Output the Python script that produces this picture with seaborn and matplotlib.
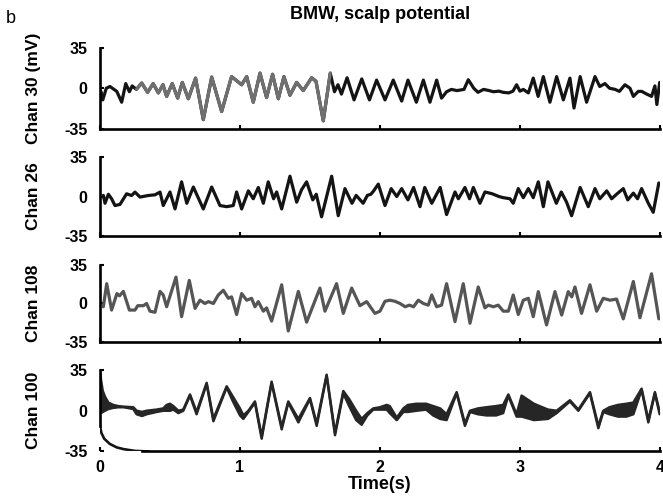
import numpy as np
import matplotlib
matplotlib.use("Agg")
import matplotlib.pyplot as plt
import seaborn as sns

# ---- channel data (time in s, potential in mV) ----
chan30_t = [0.007, 0.02, 0.045, 0.071, 0.12, 0.155, 0.184, 0.21, 0.23, 0.26,
            0.298, 0.34, 0.38, 0.417, 0.45, 0.476, 0.516, 0.555, 0.588, 0.631,
            0.683, 0.738, 0.798, 0.869, 0.94, 1.012, 1.048, 1.095, 1.143, 1.19,
            1.233, 1.274, 1.314, 1.357, 1.405, 1.452, 1.512, 1.543, 1.595, 1.645,
            1.675, 1.70, 1.725, 1.765, 1.815, 1.87, 1.925, 1.976, 2.036, 2.095,
            2.155, 2.2, 2.26, 2.31, 2.357, 2.405, 2.44, 2.476, 2.51, 2.55,
            2.60, 2.631, 2.67, 2.70, 2.74, 2.78, 2.81, 2.85, 2.88, 2.92,
            2.95, 2.976, 3.0, 3.024, 3.06, 3.095, 3.13, 3.167, 3.214, 3.262,
            3.31, 3.357, 3.386, 3.43, 3.476, 3.536, 3.57, 3.607, 3.64, 3.68,
            3.71, 3.75, 3.786, 3.81, 3.845, 3.87, 3.905, 3.94, 3.964, 3.978, 3.998]
chan30_v = [-2.7, -10, 0, 1.5, -2.7, -12, 4, -3, 2, -1,
            4.5, -3.5, 4, -4, 3, -7, 4, -8.4, 5, -9,
            8.7, -27, 9.6, -20, 10, 3, 10, -12, 13, -8,
            12, -9, 10, -6, 5, -2, 9, 6, -28, 13,
            -3, 3, -5, 9, -10, 8, -10, 7, -10, 7,
            -11, 7, -12, 7, -12, 7, -8.5, -3, -1, -2,
            -1, 7.3, 0, -3.5, -1, -2, -3, -2.5, -3.5, -4,
            -2.5, 3, -2.5, -1, -4, 8.7, -7, 10, -12, 10,
            -10, 8.7, -17, 10, -12, 10, 1.5, 4, 0, -1,
            -2.7, 3, 0, -7, -2.7, -2.7, -5, -7, 2, -14, 5]

chan26_t = [0.024, 0.036, 0.06, 0.083, 0.107, 0.143, 0.19, 0.226, 0.25, 0.286,
            0.345, 0.393, 0.429, 0.452, 0.5, 0.536, 0.583, 0.62, 0.667, 0.738,
            0.798, 0.857, 0.905, 0.952, 0.976, 1.012, 1.06, 1.095, 1.131, 1.167,
            1.202, 1.24, 1.262, 1.298, 1.357, 1.405, 1.44, 1.476, 1.52, 1.545,
            1.583, 1.655, 1.702, 1.75, 1.80, 1.83, 1.88, 1.91, 1.935, 1.955,
            1.988, 2.036, 2.08, 2.12, 2.155, 2.2, 2.24, 2.286, 2.32, 2.37,
            2.43, 2.476, 2.536, 2.56, 2.607, 2.64, 2.667, 2.714, 2.75, 2.80,
            2.85, 2.88, 2.929, 2.952, 2.988, 3.024, 3.06, 3.095, 3.131, 3.167,
            3.2, 3.26, 3.295, 3.333, 3.369, 3.43, 3.488, 3.536, 3.57, 3.62,
            3.655, 3.69, 3.738, 3.77, 3.81, 3.84, 3.869, 3.917, 3.952, 3.992]
chan26_v = [1, -6, 2, -2, -8, -7, 2.4, 0.9, 3.9, -0.5,
            0.9, 1.5, 3.9, -8, 4, -11, 13, -6, 8.4, -11,
            8.4, -8, -9, -8, 4, -11, 5, -2, 8, -6,
            13, -2, 4, -11, 18, -5, 6, 13, -3, 2,
            -18, 18, -17, 7, -6, 1, -6, 1, 2, 5,
            11, -8, 7, 0, 7, -3, 8, -9, 8, -6,
            8, -16, 4, -2, 8, -2, 8, -6, 4, 2.5,
            0, -1, -2, -6, 7, -1, 7, -1, 13, -9,
            13, -6, 4, -5, -17, 8, -9, 7, -2, 5,
            -2, 2, 7, -3, 3, -2, 7, -6, -14, 12]

chan108_t = [0.024, 0.048, 0.083, 0.121, 0.14, 0.167, 0.21, 0.25, 0.27, 0.31,
             0.333, 0.357, 0.393, 0.429, 0.452, 0.476, 0.543, 0.583, 0.638, 0.679,
             0.714, 0.75, 0.774, 0.81, 0.845, 0.881, 0.917, 0.94, 0.976, 1.012,
             1.048, 1.083, 1.107, 1.131, 1.167, 1.19, 1.226, 1.298, 1.345, 1.417,
             1.476, 1.571, 1.607, 1.69, 1.738, 1.798, 1.857, 1.905, 1.964, 2.0,
             2.036, 2.07, 2.107, 2.143, 2.18, 2.21, 2.24, 2.274, 2.31, 2.345,
             2.37, 2.405, 2.44, 2.476, 2.536, 2.595, 2.643, 2.702, 2.75, 2.774,
             2.81, 2.845, 2.881, 2.917, 2.952, 2.988, 3.024, 3.06, 3.095, 3.131,
             3.19, 3.25, 3.298, 3.345, 3.37, 3.393, 3.44, 3.5, 3.548, 3.595,
             3.643, 3.69, 3.738, 3.81, 3.857, 3.94, 3.992]
chan108_v = [-3, 18, -6, 9, 7, 11, -6, -6, -2, -2,
             0, -7, -8, 11, 7.7, -3, 24, -12, 21, -4.5,
             3, 0, 1.7, 0, 7.7, 12, 4.7, 6, -10, 9,
             3, 4.7, -3, 1.7, -7, -4, -16, 17, -25, 11,
             -17, 14, -7, 18, -9, 14, -2, 1.7, -9, -7,
             2, 3, 2, 0, -3, -1.5, -3, 3, 0, -1.5,
             7.7, -3, -1.5, 18, -16.5, 18, -18, 15, -4, -1.5,
             -3, -1.5, -7, -7, 7.7, -10, 3, 4.7, -12, 10.8,
             -19.5, 10.8, -10.5, 10.8, 6, 15, -9, 17, -7, 4.7,
             3, 4, -14, 20, -13, 27, -14]

# Chan 100 is drawn as a band between an upper and a lower trace
chan100_t = [0.0, 0.008, 0.02, 0.036, 0.06, 0.095, 0.13, 0.17, 0.238, 0.262,
             0.3, 0.333, 0.405, 0.452, 0.476, 0.5, 0.524, 0.56, 0.595, 0.643,
             0.69, 0.762, 0.81, 0.905, 0.95, 1.0, 1.024, 1.06, 1.107, 1.155,
             1.226, 1.298, 1.345, 1.417, 1.5, 1.548, 1.619, 1.679, 1.738, 1.78,
             1.83, 1.869, 1.91, 1.952, 2.0, 2.048, 2.07, 2.12, 2.167, 2.2,
             2.26, 2.33, 2.38, 2.43, 2.476, 2.548, 2.607, 2.643, 2.7, 2.76,
             2.83, 2.88, 2.917, 2.976, 3.012, 3.1, 3.2, 3.262, 3.357, 3.417,
             3.5, 3.56, 3.595, 3.64, 3.7, 3.76, 3.81, 3.869, 3.917, 3.964, 3.998]
chan100_hi = [35, 26, 17, 12, 7, 5, 4, 3.5, 3, 0,
              -1, 0, 1, 2, 5, 6, 4, 0, 1, 14,
              -1, 24, -7, 21, 12, 2, -4, 0, 8, -22,
              25, -14, 8, -7, 11, -11, 31, -19, 17, 10,
              0, -7, -2, 2, 3, 5, 4, -6, 2, 5,
              6, 6, 4, 2, -3, 16, -11, 0, 2, 3,
              4, 5, 14, -3, 13, 6, 1, 0, 9, 1,
              16, -13, 0, 3, 5, 6, 7, 19, -8, 16, -1]
chan100_lo = [-2, -2, -1, 0, 1.5, 2.5, 3, 3, 1.5, -3,
              -4.5, -3, -1, 0, 0, 0, 1, -2, 0, 13,
              -3, 23, -9, 20, 8, -4, -7, -1, 7, -24,
              24, -16, 7, -10, 10, -13, 30, -21, 15, 4,
              -8, -12, -4, 1, 1, 1, -2, -8, -1, -1,
              0, 1, -4, -7, -8, 15, -13, -1, -3, -4,
              -4, -2, 13, -5, -5, -8, -7, -2, 8, 0,
              15, -15, -1, -3, -5, -5, -3, 18, -10, 15, -3]
chan100_base_t = [0.0, 0.01, 0.03, 0.07, 0.12, 0.17, 0.25, 0.35]
chan100_base_v = [-13, -19, -24, -28.5, -31.5, -33, -34.5, -35]

channels = ["Chan 30 (mV)", "Chan 26", "Chan 108", "Chan 100"]
yticks = [-35, 0, 35]
ytick_labels = ["-35", "0", "35"]
xticks = [0, 1, 2, 3, 4]

sns.set_theme(style="ticks")
plt.rcParams["font.family"] = ["Liberation Sans", "DejaVu Sans"]
plt.rcParams["font.weight"] = "bold"

fig = plt.figure(figsize=(6.63, 4.98), dpi=100)
fig.patch.set_facecolor("white")

# [left, bottom, width, height] of each stacked panel
boxes = [
    [0.1508, 0.7410, 0.8446, 0.1636],
    [0.1508, 0.5261, 0.8446, 0.1586],
    [0.1508, 0.3133, 0.8446, 0.1546],
    [0.1508, 0.0934, 0.8446, 0.1636],
]
axes = [fig.add_axes(b) for b in boxes]

LW = 2.3
BLACK = "#141414"
GRAY = "#707070"


def trace(ax, x, y, color, lw=LW):
    sns.lineplot(x=x, y=y, ax=ax, color=color, linewidth=lw,
                 estimator=None, sort=False)
    for line in ax.get_lines():
        line.set_solid_joinstyle("round")
        line.set_solid_capstyle("round")


# Chan 30: dark trace with a lighter middle stretch
ax = axes[0]
t30 = np.array(chan30_t)
v30 = np.array(chan30_v)
mid = (t30 >= 0.26) & (t30 <= 1.645)
trace(ax, t30, v30, BLACK)
trace(ax, t30[mid], v30[mid], GRAY)

# Chan 26
trace(axes[1], chan26_t, chan26_v, BLACK)

# Chan 108
trace(axes[2], chan108_t, chan108_v, "#555555")

# Chan 100: filled band plus the baseline sweep
ax = axes[3]
ax.fill_between(chan100_t, chan100_lo, chan100_hi, color="#262626", linewidth=0)
trace(ax, chan100_t, chan100_hi, "#262626", lw=1.8)
trace(ax, chan100_t, chan100_lo, "#262626", lw=1.8)
trace(ax, chan100_base_t, chan100_base_v, BLACK, lw=1.9)

for i, (ax, name) in enumerate(zip(axes, channels)):
    ax.set_facecolor("white")
    ax.set_xlim(0, 4)
    ax.set_ylim(-35, 35)
    sns.despine(ax=ax)
    for side in ("left", "bottom"):
        ax.spines[side].set_linewidth(1.9)
        ax.spines[side].set_color("black")
    ax.set_yticks(yticks)
    ax.set_yticklabels(ytick_labels, fontsize=11.5, fontweight="bold")
    ax.set_xticks(xticks)
    ax.tick_params(axis="both", direction="in", length=3, width=1.5,
                   colors="black", pad=9)
    ax.set_ylabel(name, fontsize=12.5, fontweight="bold", color="black")
    ax.yaxis.set_label_coords(-0.105, 0.5)
    ax.set_xlabel("")
    if i < 3:
        ax.set_xticklabels([])
    else:
        ax.set_xticklabels([str(x) for x in xticks], fontsize=11.5,
                           fontweight="bold")
        ax.tick_params(axis="x", pad=6)
        ax.spines["left"].set_bounds(-13, 35)
        ax.spines["bottom"].set_bounds(0.3, 4)

fig.text(0.573, 0.970, "BMW, scalp potential", ha="center", va="center",
         fontsize=13, fontweight="bold", color="black")
fig.text(0.008, 0.962, "b", ha="left", va="center", fontsize=13,
         fontweight="normal", color="black")
fig.text(0.573, 0.028, "Time(s)", ha="center", va="center",
         fontsize=13, fontweight="bold", color="black")

fig.savefig("out.png", dpi=100, facecolor="white")
